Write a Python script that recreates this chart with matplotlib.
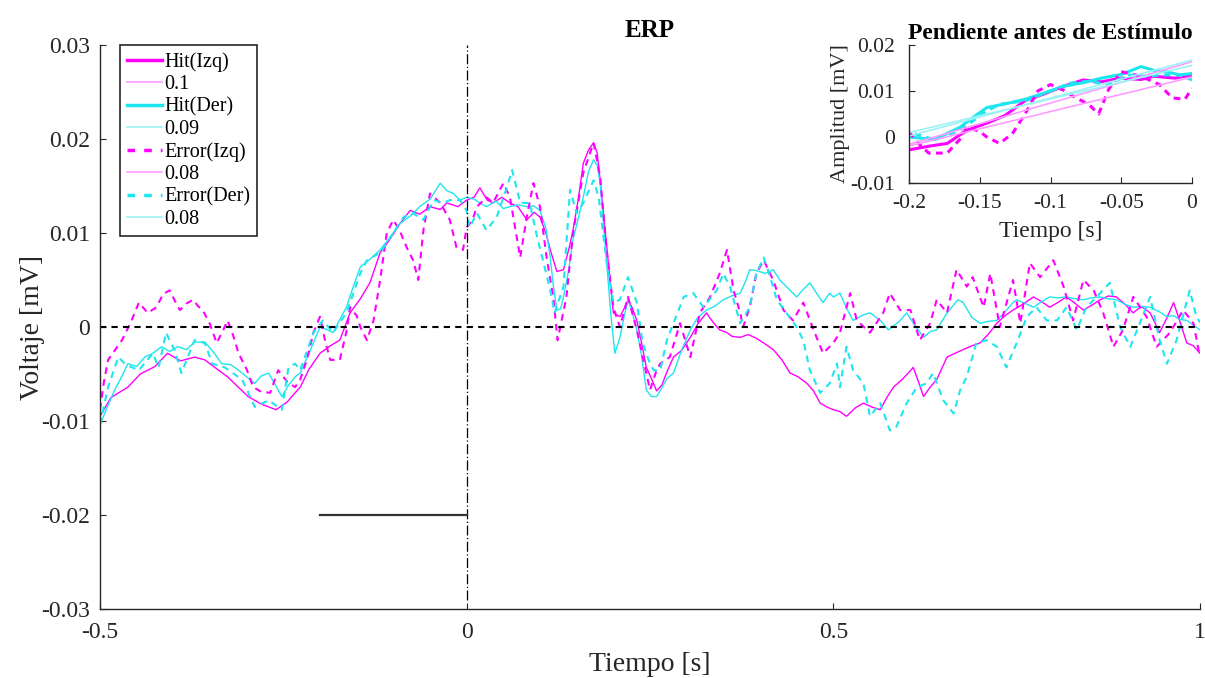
import numpy as np
import matplotlib
matplotlib.use("Agg")
import matplotlib.pyplot as plt
from matplotlib.lines import Line2D

plt.rcParams['font.family'] = ['Liberation Serif', 'DejaVu Serif']

# ---------------- data (values in units of 1e-3 mV) ----------------
t_hit_izq = [-0.500, -0.485, -0.462, -0.445, -0.425, -0.408, -0.390, -0.371, -0.357, -0.340,
             -0.326, -0.310, -0.298, -0.280, -0.260, -0.245, -0.234, -0.227, -0.215, -0.200,
             -0.186, -0.173, -0.159, -0.145, -0.132, -0.118, -0.105, -0.091, -0.077, -0.064,
             -0.050, -0.036, -0.027, -0.012, 0.000, 0.010, 0.018, 0.028, 0.036, 0.048,
             0.059, 0.070, 0.082, 0.092, 0.100, 0.108, 0.114, 0.123, 0.132, 0.140,
             0.145, 0.152, 0.159, 0.166, 0.173, 0.178, 0.182, 0.191, 0.200, 0.209,
             0.215, 0.220, 0.226, 0.232, 0.238, 0.245, 0.252, 0.259, 0.266, 0.273,
             0.282, 0.293, 0.305, 0.315, 0.327, 0.336, 0.345, 0.355, 0.362, 0.373,
             0.384, 0.395, 0.407, 0.418, 0.430, 0.441, 0.452, 0.464, 0.473, 0.482,
             0.491, 0.500, 0.509, 0.518, 0.530, 0.541, 0.552, 0.564, 0.573, 0.582,
             0.595, 0.609, 0.616, 0.623, 0.632, 0.641, 0.648, 0.655, 0.666, 0.677,
             0.689, 0.700, 0.711, 0.723, 0.734, 0.745, 0.756, 0.773, 0.784, 0.795,
             0.806, 0.818, 0.830, 0.841, 0.852, 0.864, 0.875, 0.886, 0.898, 0.909,
             0.920, 0.932, 0.945, 0.955, 0.964, 0.973, 0.982, 0.991, 1.000]
v_hit_izq = [-9.5, -7.5, -6.4, -5.0, -4.2, -2.8, -3.6, -3.2, -3.5, -4.5,
             -5.3, -6.5, -7.4, -8.2, -8.8, -8.0, -7.0, -6.4, -4.5, -2.8,
             -2.0, -1.4, 1.5, 3.0, 4.7, 7.9, 9.3, 11.0, 12.4, 12.0,
             12.8, 12.5, 13.2, 12.8, 13.5, 13.8, 14.8, 13.5, 13.2, 13.8,
             13.2, 12.8, 11.4, 12.2, 11.7, 10.0, 8.2, 5.9, 6.1, 8.5,
             10.3, 13.5, 17.4, 18.8, 19.6, 18.5, 15.6, 8.5, 1.5, 1.1,
             2.0, 2.9, 2.0, 0.7, -1.5, -4.3, -5.5, -6.8, -6.2, -4.8,
             -3.2, -2.5, -1.1, 0.3, 1.5, 0.5, -0.3, -0.6, -1.0, -1.1,
             -0.8, -1.2, -1.8, -2.4, -3.5, -4.9, -5.3, -6.0, -6.8, -8.1,
             -8.5, -8.8, -9.0, -9.5, -8.6, -8.1, -8.5, -8.8, -7.5, -6.4,
             -5.5, -4.3, -5.8, -7.4, -6.4, -5.6, -4.4, -3.2, -2.8, -2.4,
             -2.0, -1.7, -0.8, 0.4, 1.2, 1.8, 2.3, 3.2, 2.7, 2.1,
             2.6, 3.2, 2.5, 1.8, 2.3, 2.9, 3.3, 3.2, 2.4, 1.5,
             2.2, 1.5, -0.6, 1.0, 2.6, 0.5, -1.7, -2.0, -2.8]

t_hit_der = [-0.500, -0.490, -0.480, -0.470, -0.462, -0.450, -0.439, -0.428, -0.416, -0.405,
             -0.394, -0.382, -0.371, -0.357, -0.345, -0.334, -0.322, -0.311, -0.300, -0.289,
             -0.280, -0.270, -0.260, -0.252, -0.243, -0.234, -0.227, -0.215, -0.200, -0.190,
             -0.182, -0.173, -0.164, -0.155, -0.145, -0.132, -0.118, -0.105, -0.091, -0.077,
             -0.064, -0.050, -0.036, -0.027, -0.018, -0.009, 0.000, 0.010, 0.018, 0.027,
             0.040, 0.050, 0.059, 0.070, 0.082, 0.091, 0.100, 0.108, 0.114, 0.118,
             0.123, 0.128, 0.132, 0.139, 0.145, 0.152, 0.159, 0.166, 0.173, 0.178,
             0.182, 0.191, 0.197, 0.202, 0.209, 0.215, 0.220, 0.226, 0.232, 0.238,
             0.245, 0.252, 0.259, 0.266, 0.273, 0.282, 0.293, 0.305, 0.315, 0.327,
             0.338, 0.350, 0.361, 0.373, 0.380, 0.386, 0.395, 0.407, 0.418, 0.427,
             0.441, 0.450, 0.459, 0.468, 0.477, 0.486, 0.495, 0.500, 0.509, 0.518,
             0.527, 0.541, 0.550, 0.564, 0.575, 0.590, 0.600, 0.611, 0.623, 0.632,
             0.641, 0.655, 0.670, 0.677, 0.689, 0.700, 0.711, 0.723, 0.734, 0.745,
             0.750, 0.762, 0.773, 0.784, 0.795, 0.806, 0.818, 0.830, 0.841, 0.852,
             0.864, 0.875, 0.886, 0.898, 0.909, 0.920, 0.932, 0.945, 0.955, 0.964,
             0.973, 0.982, 0.991, 1.000]
v_hit_der = [-10.4, -8.5, -6.7, -5.2, -3.9, -4.2, -3.2, -2.8, -2.1, -2.6,
             -2.1, -2.4, -1.6, -1.6, -2.7, -3.9, -4.0, -4.6, -5.3, -6.0,
             -5.2, -4.9, -6.3, -7.4, -6.2, -5.3, -4.9, -2.8, 0.0, -0.3,
             -0.6, 0.8, 2.1, 4.2, 6.4, 7.2, 8.2, 9.5, 11.0, 11.8,
             12.8, 13.6, 15.3, 14.5, 14.2, 13.5, 13.8, 13.6, 13.2, 12.8,
             13.4, 12.6, 12.8, 13.0, 12.8, 12.9, 12.4, 10.5, 7.4, 4.5,
             1.8, 1.9, 3.2, 6.0, 9.3, 11.5, 13.8, 16.5, 17.8, 17.2,
             15.3, 6.8, 1.0, -2.8, -1.1, 1.2, 2.9, 1.5, -0.3, -2.8,
             -6.7, -7.4, -7.4, -6.5, -5.5, -4.9, -2.5, -0.3, 1.0, 1.8,
             2.2, 2.9, 3.3, 3.6, 4.8, 6.1, 6.0, 5.7, 6.1, 5.0,
             3.9, 3.2, 4.0, 4.7, 3.6, 2.6, 3.6, 3.2, 3.6, 2.0,
             0.7, 1.3, 1.5, 0.7, -0.3, 0.6, 1.5, 0.2, -1.1, -0.5,
             -0.3, 1.5, 2.9, 2.6, 1.0, 0.4, 0.6, 0.7, 1.6, 2.6,
             2.9, 2.5, 2.1, 2.7, 3.2, 3.1, 3.2, 3.0, 2.9, 3.1,
             3.2, 3.0, 2.9, 2.4, 2.1, 2.2, 2.1, 1.6, 1.1, 1.2,
             0.8, 0.7, 0.2, -0.3]

t_err_izq = [-0.500, -0.495, -0.489, -0.480, -0.470, -0.458, -0.447, -0.435, -0.423, -0.414,
             -0.405, -0.398, -0.391, -0.382, -0.373, -0.366, -0.360, -0.350, -0.341, -0.333,
             -0.326, -0.318, -0.311, -0.300, -0.291, -0.280, -0.268, -0.257, -0.245, -0.234,
             -0.227, -0.218, -0.209, -0.200, -0.193, -0.186, -0.173, -0.164, -0.159, -0.150,
             -0.145, -0.136, -0.127, -0.118, -0.109, -0.100, -0.091, -0.082, -0.073, -0.066,
             -0.059, -0.050, -0.036, -0.023, -0.014, -0.005, 0.000, 0.008, 0.014, 0.027,
             0.036, 0.050, 0.059, 0.073, 0.082, 0.091, 0.100, 0.109, 0.118, 0.124,
             0.136, 0.145, 0.159, 0.173, 0.182, 0.191, 0.200, 0.209, 0.220, 0.232,
             0.241, 0.250, 0.259, 0.264, 0.277, 0.291, 0.305, 0.318, 0.332, 0.345,
             0.355, 0.364, 0.373, 0.377, 0.386, 0.395, 0.405, 0.418, 0.432, 0.445,
             0.459, 0.473, 0.486, 0.500, 0.509, 0.523, 0.532, 0.550, 0.568, 0.577,
             0.591, 0.605, 0.618, 0.632, 0.641, 0.655, 0.668, 0.682, 0.690, 0.705,
             0.714, 0.727, 0.745, 0.755, 0.768, 0.782, 0.800, 0.814, 0.827, 0.841,
             0.855, 0.868, 0.882, 0.895, 0.909, 0.927, 0.941, 0.959, 0.977, 0.991,
             1.000]
v_err_izq = [-8.8, -6.0, -3.5, -2.5, -1.4, 0.5, 2.6, 1.5, 2.1, 3.5,
             3.9, 2.8, 1.8, 2.5, 2.9, 2.2, 1.8, 0.3, -1.7, -0.5,
             0.7, -1.0, -2.8, -4.5, -6.4, -6.9, -7.0, -4.6, -5.8, -6.4,
             -5.6, -3.5, -0.6, 1.1, -1.5, -3.5, -3.5, -0.5, 2.1, 1.2,
             0.0, -1.4, 0.7, 5.0, 10.0, 11.4, 10.2, 8.5, 7.1, 5.0,
             10.3, 14.2, 13.2, 11.4, 8.5, 8.2, 10.6, 11.4, 12.8, 13.8,
             13.2, 15.3, 13.8, 7.4, 11.7, 15.3, 12.8, 7.4, 3.2, -1.4,
             3.2, 10.0, 16.4, 19.6, 16.0, 8.2, 2.1, 0.0, 3.2, -0.3,
             -3.5, -6.7, -4.6, -3.9, -3.2, 0.4, -3.2, 1.5, 3.2, 5.7,
             8.2, 3.9, 1.5, 0.0, 2.1, 5.7, 7.1, 5.0, 1.8, 0.7,
             2.6, -0.3, -2.8, -1.7, -0.6, 3.6, 0.7, -0.6, 1.5, 3.6,
             1.8, 1.8, -1.4, 0.4, 2.9, 1.5, 6.1, 4.3, 5.3, 2.1,
             5.7, 0.0, 5.0, 0.4, 6.8, 5.3, 7.1, 4.3, 0.7, 5.0,
             3.9, 1.5, -2.1, -0.3, 3.2, 1.1, -2.1, -0.6, 1.8, 0.4,
             -3.2]

t_err_der = [-0.500, -0.489, -0.475, -0.465, -0.447, -0.428, -0.420, -0.410, -0.398, -0.389,
             -0.371, -0.357, -0.347, -0.330, -0.306, -0.289, -0.270, -0.252, -0.243, -0.234,
             -0.227, -0.209, -0.196, -0.182, -0.164, -0.145, -0.136, -0.118, -0.100, -0.086,
             -0.073, -0.059, -0.045, -0.032, -0.023, -0.009, 0.000, 0.004, 0.014, 0.027,
             0.041, 0.055, 0.062, 0.073, 0.086, 0.096, 0.105, 0.114, 0.120, 0.132,
             0.141, 0.150, 0.159, 0.173, 0.180, 0.191, 0.200, 0.209, 0.220, 0.232,
             0.240, 0.250, 0.255, 0.264, 0.273, 0.296, 0.309, 0.323, 0.341, 0.350,
             0.359, 0.373, 0.386, 0.395, 0.405, 0.414, 0.423, 0.436, 0.450, 0.459,
             0.468, 0.482, 0.495, 0.505, 0.509, 0.518, 0.527, 0.541, 0.550, 0.564,
             0.577, 0.586, 0.600, 0.614, 0.627, 0.636, 0.650, 0.664, 0.673, 0.682,
             0.695, 0.709, 0.723, 0.736, 0.750, 0.764, 0.777, 0.791, 0.805, 0.818,
             0.832, 0.845, 0.864, 0.877, 0.891, 0.905, 0.918, 0.932, 0.945, 0.955,
             0.968, 0.986, 0.995, 1.000]
v_err_der = [-10.4, -6.4, -3.2, -4.0, -4.6, -2.8, -4.3, -0.6, -2.5, -4.9,
             -1.4, -1.7, -3.9, -4.3, -5.6, -8.5, -7.8, -8.8, -4.3, -3.9,
             -4.6, -0.6, 0.7, -0.6, 1.5, 5.7, 7.1, 7.9, 10.0, 11.7,
             12.1, 11.4, 13.5, 13.2, 13.5, 13.5, 12.4, 10.6, 12.1, 10.3,
             11.7, 14.9, 16.7, 13.2, 13.2, 9.6, 6.8, 3.9, 1.5, 4.3,
             14.6, 12.1, 13.2, 15.6, 13.8, 6.8, 2.6, 2.9, 5.3, 2.6,
             -1.7, -3.9, -4.6, -4.6, -1.4, 3.2, 3.6, 2.1, 3.9, 5.7,
             4.3, 0.4, 2.1, 5.7, 7.4, 5.3, 2.9, 1.5, 0.0, -1.4,
             -4.6, -7.0, -6.0, -3.9, -6.4, -2.1, -4.6, -6.0, -9.5, -8.1,
             -11.0, -10.6, -8.1, -6.4, -6.0, -4.9, -7.8, -9.2, -6.7, -5.3,
             -1.7, -1.4, -2.1, -4.3, -1.7, 1.1, 2.1, 0.7, 0.7, 2.1,
             -0.3, 2.1, 3.6, 4.7, 0.0, -2.1, 0.4, 3.2, -1.4, -3.9,
             -1.4, 3.9, 1.1, 0.5]

labels = ['Hit(Izq)', '0.1', 'Hit(Der)', '0.09', 'Error(Izq)', '0.08', 'Error(Der)', '0.08']
fit_window = (-0.2, 0.0)

MAG = '#ff00ff'
CYA = '#1ee6ee'
MAG_L = '#ff9cff'
CYA_L = '#9cf3f6'
DARK = '#262626'

series = [
    (np.array(t_hit_izq), np.array(v_hit_izq) * 1e-3, MAG, MAG_L, '-'),
    (np.array(t_hit_der), np.array(v_hit_der) * 1e-3, CYA, CYA_L, '-'),
    (np.array(t_err_izq), np.array(v_err_izq) * 1e-3, MAG, MAG_L, '--'),
    (np.array(t_err_der), np.array(v_err_der) * 1e-3, CYA, CYA_L, '--'),
]

W, H = 1205, 678
fig = plt.figure(figsize=(W / 100, H / 100), dpi=100)
ax = fig.add_axes([100 / W, 1 - 609 / H, 1100 / W, 564 / H])


def style_axes(a, fs):
    for s in ['top', 'right']:
        a.spines[s].set_visible(False)
    for s in ['left', 'bottom']:
        a.spines[s].set_color(DARK)
        a.spines[s].set_linewidth(1.0)
    a.tick_params(direction='in', length=4, width=0.8, colors=DARK,
                  labelsize=fs, labelcolor=DARK)


def dash_kw(ls, lw):
    if ls == '--':
        return dict(linestyle=(0, (3.2 / lw * 1.5, 2.6 / lw * 1.5)))
    return dict(linestyle='-')


# main curves
for t, v, c, cl, ls in series:
    lw = 1.0 if ls == '-' else 1.5
    ax.plot(t, v, color=c, lw=lw, **dash_kw(ls, lw))

ax.axhline(0, color='black', lw=1.5, linestyle=(0, (3, 2.5)))
ax.plot([0, 0], [-0.029, 0.03], color='black', lw=0.9, linestyle=(0, (8, 2, 1, 2)))
ax.plot([-0.2, 0], [-0.02, -0.02], color='#333333', lw=1.6)

ax.set_xlim(-0.5, 1.0)
ax.set_ylim(-0.03, 0.03)
ax.set_xticks([-0.5, 0, 0.5, 1])
ax.set_xticklabels(['-0.5', '0', '0.5', '1'])
ax.set_yticks([-0.03, -0.02, -0.01, 0, 0.01, 0.02, 0.03])
ax.set_yticklabels(['-0.03', '-0.02', '-0.01', '0', '0.01', '0.02', '0.03'])
style_axes(ax, 17)
ax.tick_params(axis='x', pad=9)
ax.tick_params(axis='y', pad=7)
ax.set_xlabel('Tiempo [s]', fontsize=20, color=DARK, labelpad=7)
ax.set_ylabel('Voltaje [mV]', fontsize=20, color=DARK, labelpad=-3)
ax.set_title('ERP', fontsize=18, fontweight='bold', pad=6)

# legend proxies
handles = []
for t, v, c, cl, ls in series:
    if ls == '--':
        handles.append(Line2D([], [], color=c, lw=2.5, linestyle=(0, (2.2, 2.6))))
    else:
        handles.append(Line2D([], [], color=c, lw=2.5))
    handles.append(Line2D([], [], color=cl, lw=1.2))
leg = ax.legend(handles, labels, loc='upper left', bbox_to_anchor=(20 / 1100, 1.0),
                borderaxespad=0, fontsize=14.5, frameon=True, fancybox=False,
                edgecolor=DARK, framealpha=1, handlelength=1.75, handletextpad=0.1,
                labelspacing=0.16, borderpad=0.35)
leg.get_frame().set_linewidth(1.2)

# inset
axi = fig.add_axes([909 / W, 1 - 183 / H, 283 / W, 138 / H])
for t, v, c, cl, ls in series:
    m = (t >= fit_window[0]) & (t <= fit_window[1])
    lw = 2.2
    axi.plot(t[m], v[m], color=c, lw=lw, **dash_kw(ls, lw))
for t, v, c, cl, ls in series:
    m = (t >= fit_window[0]) & (t <= fit_window[1])
    p = np.polyfit(t[m], v[m], 1)
    xf = np.array(fit_window)
    axi.plot(xf, np.polyval(p, xf), color=cl, lw=1.2)
axi.set_xlim(-0.2, 0)
axi.set_ylim(-0.01, 0.02)
axi.set_xticks([-0.2, -0.15, -0.1, -0.05, 0])
axi.set_xticklabels(['-0.2', '-0.15', '-0.1', '-0.05', '0'])
axi.set_yticks([-0.01, 0, 0.01, 0.02])
axi.set_yticklabels(['-0.01', '0', '0.01', '0.02'])
style_axes(axi, 15.5)
axi.tick_params(axis='x', pad=8)
axi.tick_params(axis='y', pad=10)
axi.set_xlabel('Tiempo [s]', fontsize=17, color=DARK, labelpad=6)
axi.set_ylabel('Amplitud [mV]', fontsize=16, color=DARK, labelpad=0)
axi.set_title('Pendiente antes de Estímulo', fontsize=17, fontweight='bold', pad=4)

fig.savefig('out.png', dpi=100)
